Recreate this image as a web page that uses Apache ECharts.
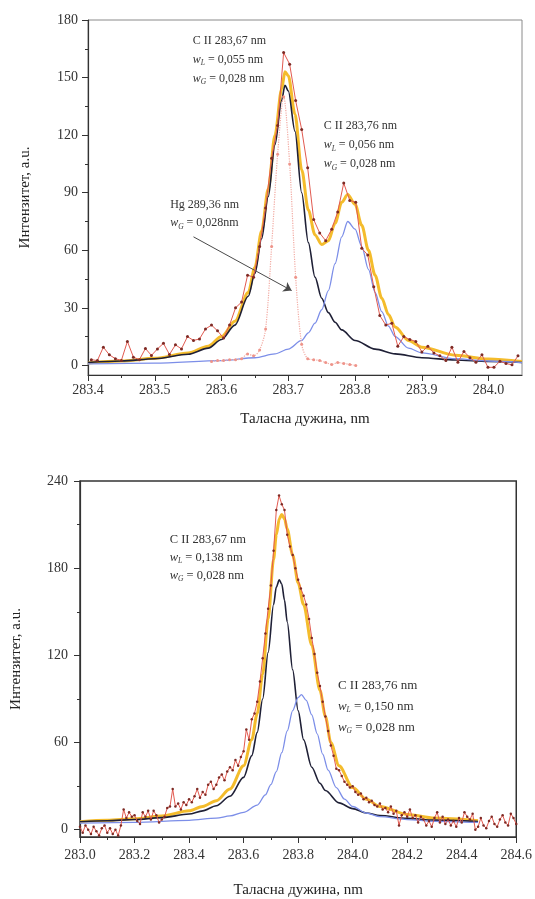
<!DOCTYPE html>
<html>
<head>
<meta charset="utf-8">
<title>C II spectra</title>
<script src="https://cdn.jsdelivr.net/npm/echarts@6/dist/echarts.min.js"></script>
<style>
  html, body { margin: 0; padding: 0; background: #fff; }
  #main { width: 535px; height: 899px; }
</style>
</head>
<body>
<div id="main"></div>
<script>
// ---- upper spectrum ----
const topMeasured = [
  [283.405, 3], [283.414, 2.5], [283.423, 9.5], [283.432, 5.5], [283.441, 3.5], [283.450, 2.6],
  [283.459, 12.5], [283.468, 4.3], [283.477, 3], [283.486, 8.8], [283.495, 5.2], [283.504, 8.6],
  [283.513, 11.5], [283.522, 5.7], [283.531, 10.7], [283.540, 8.6], [283.549, 15], [283.558, 13],
  [283.567, 13.8], [283.576, 19], [283.585, 21], [283.594, 18], [283.603, 14.3], [283.612, 21],
  [283.621, 30], [283.630, 33], [283.639, 47], [283.648, 46], [283.657, 62], [283.666, 82],
  [283.675, 108], [283.684, 125], [283.693, 163], [283.702, 157], [283.711, 138], [283.720, 123],
  [283.729, 103], [283.738, 76], [283.747, 69], [283.756, 65], [283.765, 71], [283.774, 80],
  [283.783, 95], [283.792, 86], [283.801, 85], [283.810, 61], [283.819, 57.5], [283.828, 41],
  [283.837, 26], [283.846, 21], [283.855, 22], [283.864, 10], [283.873, 15], [283.882, 13.5],
  [283.891, 12.5], [283.900, 7], [283.909, 10], [283.918, 6.5], [283.927, 5], [283.936, 2.5],
  [283.945, 9.5], [283.954, 1.7], [283.963, 7.3], [283.972, 4], [283.981, 1.7], [283.990, 5.5],
  [283.999, -1], [284.008, -1], [284.017, 2.2], [284.026, 1], [284.035, 0.3], [284.044, 5]
];
const topFit = [
  [283.40, 1.3], [283.45, 2.3], [283.50, 3.7], [283.55, 6.5], [283.58, 10], [283.60, 15],
  [283.62, 23], [283.64, 38], [283.65, 51], [283.66, 70], [283.67, 92], [283.68, 120],
  [283.69, 144], [283.695, 153], [283.70, 151], [283.71, 131], [283.72, 102], [283.73, 81],
  [283.74, 68], [283.75, 63], [283.76, 65], [283.77, 74], [283.78, 85], [283.789, 89],
  [283.80, 84], [283.81, 73], [283.82, 60], [283.83, 47], [283.84, 35], [283.85, 26.5],
  [283.86, 20], [283.88, 13], [283.90, 9.5], [283.95, 5.3], [284.00, 3.3], [284.05, 2]
];
const topLine1 = [
  [283.40, 1.5], [283.45, 2.3], [283.50, 3.5], [283.55, 5.8], [283.58, 9], [283.60, 13.5],
  [283.62, 21], [283.64, 36], [283.65, 48], [283.66, 66], [283.67, 88], [283.68, 115],
  [283.69, 138], [283.695, 146], [283.70, 143], [283.71, 122], [283.72, 90], [283.73, 64],
  [283.74, 46], [283.75, 35], [283.76, 27.5], [283.77, 22.5], [283.78, 18.5], [283.80, 13],
  [283.83, 8.5], [283.86, 6], [283.90, 4], [283.95, 2.8], [284.00, 2], [284.05, 1.5]
];
const topLine2 = [
  [283.40, 0.8], [283.50, 1.2], [283.60, 2.5], [283.65, 4], [283.68, 6], [283.70, 8.5],
  [283.72, 13], [283.73, 17], [283.74, 22], [283.75, 29], [283.76, 39], [283.77, 53],
  [283.78, 67], [283.789, 75], [283.80, 71], [283.81, 62], [283.82, 50], [283.83, 38],
  [283.84, 28], [283.85, 20.5], [283.86, 15], [283.88, 9], [283.90, 6.5], [283.95, 3.5],
  [284.00, 2.3], [284.05, 1.5]
];
const topHg = [
  [283.585, 2], [283.594, 2.5], [283.603, 2.5], [283.612, 3], [283.621, 3], [283.630, 3.5],
  [283.639, 6], [283.648, 5], [283.657, 8], [283.666, 19], [283.675, 62], [283.684, 110],
  [283.693, 140], [283.702, 105], [283.711, 46], [283.720, 11], [283.729, 3.5], [283.738, 3],
  [283.747, 2.5], [283.756, 1.5], [283.765, 0.5], [283.774, 1.5], [283.783, 1], [283.792, 0.5],
  [283.801, 0]
];
const topYLabels = [0, 30, 60, 90, 120, 150, 180];
const topYMinor = [15, 45, 75, 105, 135, 165];
const topXLabels = [283.4, 283.5, 283.6, 283.7, 283.8, 283.9, 284.0];
const topXMinor = [283.45, 283.55, 283.65, 283.75, 283.85, 283.95];

// ---- lower spectrum ----
const bottomMeasured = [
  [283.00, 2], [283.01, -2], [283.02, 3], [283.03, 0], [283.04, -3], [283.05, 2], [283.06, -1],
  [283.07, -4], [283.08, 1], [283.09, 3], [283.10, -2], [283.11, 1], [283.12, -3], [283.13, 0],
  [283.14, -4], [283.15, 3], [283.16, 14], [283.17, 8], [283.18, 12], [283.19, 9], [283.20, 10],
  [283.21, 6], [283.22, 4], [283.23, 12], [283.24, 9], [283.25, 13], [283.26, 7], [283.27, 13],
  [283.28, 10], [283.29, 5], [283.30, 7], [283.31, 9], [283.32, 15], [283.33, 16], [283.34, 28],
  [283.35, 16], [283.36, 18], [283.37, 14], [283.38, 19], [283.39, 17], [283.40, 21], [283.41, 19],
  [283.42, 23], [283.43, 28], [283.44, 22], [283.45, 26], [283.46, 24], [283.47, 31], [283.48, 33],
  [283.49, 28], [283.50, 31], [283.51, 36], [283.52, 38], [283.53, 34], [283.54, 40], [283.55, 43],
  [283.56, 41], [283.57, 48], [283.58, 44], [283.59, 50], [283.60, 54], [283.61, 69], [283.62, 62],
  [283.63, 76], [283.64, 80], [283.65, 88], [283.66, 102], [283.67, 118], [283.68, 135], [283.69, 152],
  [283.70, 168], [283.71, 192], [283.72, 220], [283.73, 230], [283.74, 224], [283.75, 220], [283.76, 203],
  [283.77, 195], [283.78, 189], [283.79, 180], [283.80, 172], [283.81, 166], [283.82, 161], [283.83, 155],
  [283.84, 145], [283.85, 132], [283.86, 121], [283.87, 108], [283.88, 99], [283.89, 88], [283.90, 78],
  [283.91, 68], [283.92, 58], [283.93, 51], [283.94, 42], [283.95, 41], [283.96, 37], [283.97, 33],
  [283.98, 31], [283.99, 29], [284.00, 30], [284.01, 26], [284.02, 24], [284.03, 25], [284.04, 21],
  [284.05, 22], [284.06, 19], [284.07, 20], [284.08, 17], [284.09, 16], [284.10, 18], [284.11, 14],
  [284.12, 15], [284.13, 12], [284.14, 16], [284.15, 11], [284.16, 13], [284.17, 3], [284.18, 10],
  [284.19, 12], [284.20, 9], [284.21, 14], [284.22, 8], [284.23, 10], [284.24, 5], [284.25, 9],
  [284.26, 7], [284.27, 3], [284.28, 6], [284.29, 2], [284.30, 8], [284.31, 12], [284.32, 5],
  [284.33, 9], [284.34, 4], [284.35, 7], [284.36, 3], [284.37, 6], [284.38, 2], [284.39, 8],
  [284.40, 5], [284.41, 12], [284.42, 9], [284.43, 7], [284.44, 11], [284.45, 0], [284.46, 2],
  [284.47, 8], [284.48, 3], [284.49, 1], [284.50, 6], [284.51, 9], [284.52, 4], [284.53, 2],
  [284.54, 7], [284.55, 10], [284.56, 5], [284.57, 3], [284.58, 11], [284.59, 8], [284.60, 4]
];
const bottomFit = [
  [283.00, 5.5], [283.10, 6.5], [283.20, 7.5], [283.30, 9.5], [283.40, 13], [283.45, 16],
  [283.50, 20], [283.55, 28], [283.60, 44], [283.63, 62], [283.65, 80], [283.67, 107],
  [283.69, 145], [283.71, 186], [283.72, 203], [283.731, 214], [283.74, 217], [283.75, 214],
  [283.76, 207], [283.78, 189], [283.80, 170], [283.82, 155], [283.85, 127], [283.88, 96],
  [283.90, 78], [283.92, 60], [283.95, 44], [284.00, 29], [284.05, 21], [284.10, 16],
  [284.20, 10.5], [284.30, 8], [284.46, 6.2]
];
const bottomLine1 = [
  [283.00, 5.5], [283.10, 6.2], [283.20, 7], [283.30, 8.3], [283.40, 10.8], [283.45, 13],
  [283.50, 16.5], [283.55, 23], [283.60, 36], [283.63, 51], [283.65, 67], [283.67, 90],
  [283.69, 122], [283.71, 155], [283.72, 167], [283.731, 172], [283.74, 169], [283.75, 158],
  [283.76, 143], [283.78, 110], [283.80, 82], [283.82, 62], [283.85, 43], [283.88, 32],
  [283.90, 27], [283.95, 18.5], [284.00, 14.5], [284.05, 11.5], [284.10, 9.8], [284.20, 7.8],
  [284.30, 6.6], [284.46, 5.7]
];
const bottomLine2 = [
  [283.00, 4.5], [283.20, 5], [283.40, 6.5], [283.50, 8], [283.55, 9.5], [283.60, 12],
  [283.65, 17], [283.68, 24], [283.70, 31], [283.72, 40], [283.74, 53], [283.76, 68],
  [283.78, 82], [283.80, 91], [283.812, 93], [283.83, 89], [283.85, 79], [283.87, 66],
  [283.89, 52], [283.91, 41], [283.94, 29], [283.97, 21], [284.00, 16], [284.05, 11.5],
  [284.10, 9], [284.20, 7], [284.30, 5.8], [284.46, 5]
];
const bottomYLabels = [0, 60, 120, 180, 240];
const bottomYMinor = [30, 90, 150, 210];
const bottomXLabels = [283.0, 283.2, 283.4, 283.6, 283.8, 284.0, 284.2, 284.4, 284.6];
const bottomXMinor = [283.1, 283.3, 283.5, 283.7, 283.9, 284.1, 284.3, 284.5];

// annotation texts, anchored (top-left) in data units
const notes = [
  { grid: 0, at: [283.557, 173], gap: 19, size: 12, text: ['C II 283,67 nm', '{w|w}{s|L}{t| = 0,055 nm}', '{w|w}{s|G}{t| = 0,028 nm}'] },
  { grid: 0, at: [283.753, 128.6], gap: 19, size: 12, text: ['C II 283,76 nm', '{w|w}{s|L}{t| = 0,056 nm}', '{w|w}{s|G}{t| = 0,028 nm}'] },
  { grid: 0, at: [283.523, 87.4], gap: 18, size: 12, text: ['Hg 289,36 nm', '{w|w}{s|G}{t| = 0,028nm}'] },
  { grid: 1, at: [283.329, 204.6], gap: 18, size: 12.5, text: ['C II 283,67 nm', '{w|w}{s|L}{t| = 0,138 nm}', '{w|w}{s|G}{t| = 0,028 nm}'] },
  { grid: 1, at: [283.946, 104.2], gap: 21, size: 13, text: ['C II 283,76 nm', '{w|w}{s|L}{t| = 0,150 nm}', '{w|w}{s|G}{t| = 0,028 nm}'] }
];
const hgArrow = [[283.558, 67], [283.705, 39]];

const serif = '"Liberation Serif", "DejaVu Serif", serif';
const ink = '#333';

function xAxes(g, min, max, labels, minor, gap, margin) {
  return [{
    type: 'value', gridIndex: g, min: min, max: max, position: 'bottom',
    name: 'Таласна дужина, nm', nameLocation: 'middle', nameGap: gap,
    nameTextStyle: { fontFamily: serif, fontSize: 15, color: '#222' },
    axisLine: { onZero: false, lineStyle: { color: ink, width: 1.2 } },
    axisTick: { customValues: labels, length: 6, lineStyle: { color: ink } },
    axisLabel: { customValues: labels, formatter: v => v.toFixed(1), fontFamily: serif, fontSize: 14, color: ink, margin: margin },
    splitLine: { show: false }
  }, {
    type: 'value', gridIndex: g, min: min, max: max, position: 'bottom',
    axisLine: { show: false, onZero: false },
    axisTick: { customValues: minor, length: 3, lineStyle: { color: ink } },
    axisLabel: { show: false },
    splitLine: { show: false }
  }];
}

function yAxes(g, min, max, labels, minor, gap, margin) {
  return [{
    type: 'value', gridIndex: g, min: min, max: max, position: 'left',
    name: 'Интензитет, a.u.', nameLocation: 'middle', nameGap: gap,
    nameTextStyle: { fontFamily: serif, fontSize: 15, color: '#222' },
    axisLine: { show: true, onZero: false, lineStyle: { color: ink, width: 1.2 } },
    axisTick: { show: true, customValues: labels, length: 6, lineStyle: { color: ink } },
    axisLabel: { customValues: labels, formatter: v => String(Math.round(v)), fontFamily: serif, fontSize: 14, color: ink, margin: margin },
    splitLine: { show: false }
  }, {
    type: 'value', gridIndex: g, min: min, max: max, position: 'left',
    axisLine: { show: false, onZero: false },
    axisTick: { show: true, customValues: minor, length: 3, lineStyle: { color: ink } },
    axisLabel: { show: false },
    splitLine: { show: false }
  }];
}

function curve(g, data, color, width, z) {
  return {
    type: 'line', xAxisIndex: g * 2, yAxisIndex: g * 2, data: data,
    smooth: 0.3, smoothMonotone: 'x', showSymbol: false, z: z,
    lineStyle: { color: color, width: width }
  };
}

function measured(g, data, size) {
  return {
    type: 'line', xAxisIndex: g * 2, yAxisIndex: g * 2, data: data,
    symbol: 'circle', symbolSize: size, showSymbol: true, z: 6,
    lineStyle: { color: '#e25a50', width: 1 },
    itemStyle: { color: '#7e2a24' }
  };
}

const chart = echarts.init(document.getElementById('main'));

const hgSeries = {
  type: 'line', xAxisIndex: 0, yAxisIndex: 0, data: topHg,
  smooth: 0.3, symbol: 'circle', symbolSize: 3, showSymbol: true, z: 4,
  lineStyle: { color: '#f2aaa2', width: 1.2, type: 'dotted' },
  itemStyle: { color: '#ee948a' },
  markLine: {
    silent: true, symbol: ['none', 'arrow'], symbolSize: 8,
    lineStyle: { color: '#4a4a4a', width: 1, type: 'solid' },
    label: { show: false },
    data: [[{ coord: hgArrow[0] }, { coord: hgArrow[1] }]]
  }
};

chart.setOption({
  animation: false,
  backgroundColor: '#fff',
  grid: [
    { left: 88, right: 13, top: 20, bottom: 524, show: true, borderColor: '#8a8a8a', borderWidth: 1 },
    { left: 80, right: 17, top: 481, bottom: 61, show: true, borderColor: '#333', borderWidth: 1.5 }
  ],
  xAxis: [].concat(
    xAxes(0, 283.4, 284.05, topXLabels, topXMinor, 37, 8),
    xAxes(1, 283.0, 284.6, bottomXLabels, bottomXMinor, 46, 11)
  ),
  yAxis: [].concat(
    yAxes(0, -5, 180, topYLabels, topYMinor, 55, 10),
    yAxes(1, -5, 240, bottomYLabels, bottomYMinor, 56, 12)
  ),
  series: [
    curve(0, topFit, '#f4bc2c', 3, 2),
    curve(0, topLine1, '#1f2036', 1.6, 3),
    curve(0, topLine2, '#7c8ee8', 1.3, 3),
    hgSeries,
    measured(0, topMeasured, 3),
    curve(1, bottomFit, '#f4bc2c', 3, 2),
    curve(1, bottomLine1, '#1f2036', 1.6, 3),
    curve(1, bottomLine2, '#7c8ee8', 1.3, 3),
    measured(1, bottomMeasured, 2.5)
  ]
});

// place the annotation blocks through the grids' own scales
const graphics = [];
notes.forEach(n => {
  const p = chart.convertToPixel({ gridIndex: n.grid }, n.at);
  const rich = {
    w: { fontFamily: serif, fontSize: n.size, fontStyle: 'italic', lineHeight: 15, fill: ink },
    s: { fontFamily: serif, fontSize: 7.5, fontStyle: 'italic', lineHeight: 12, verticalAlign: 'bottom', fill: ink },
    t: { fontFamily: serif, fontSize: n.size, lineHeight: 15, fill: ink }
  };
  n.text.forEach((line, i) => {
    graphics.push({
      type: 'text', x: p[0], y: p[1] + i * n.gap, z: 10,
      style: {
        text: line, rich: rich, fontFamily: serif, fontSize: n.size, lineHeight: 15,
        fill: ink, align: 'left', verticalAlign: 'top'
      }
    });
  });
});
chart.setOption({ graphic: graphics });
</script>
</body>
</html>
